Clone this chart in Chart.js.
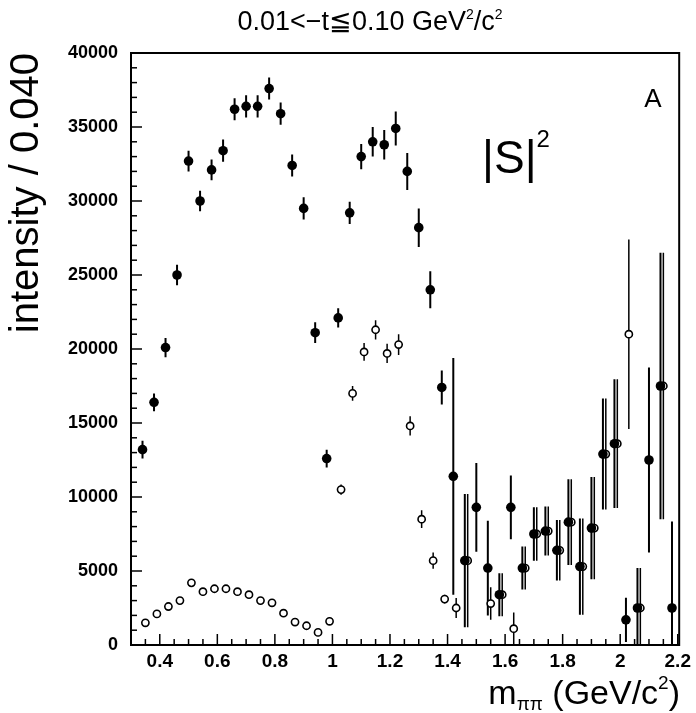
<!DOCTYPE html>
<html>
<head>
<meta charset="utf-8">
<script src="https://cdn.jsdelivr.net/npm/chart.js@4"></script>
<style>
  body { margin: 0; background: #fff; }
  canvas { display: block; }
</style>
</head>
<body>
<canvas id="waveChart" width="696" height="713"></canvas>
<script>
// |S|^2 intensity, two solutions: filled (black) and open (white) markers
const massFilled = [0.34, 0.38, 0.42, 0.46, 0.50, 0.54, 0.58, 0.62, 0.66, 0.70,
	0.74, 0.78, 0.82, 0.86, 0.90, 0.94, 0.98, 1.02, 1.06, 1.10,
	1.14, 1.18, 1.22, 1.26, 1.30, 1.34, 1.38, 1.42, 1.46, 1.50,
	1.54, 1.58, 1.62, 1.66, 1.70, 1.74, 1.78, 1.82, 1.86, 1.90,
	1.94, 1.98, 2.02, 2.06, 2.10, 2.14, 2.18];
const intensityFilled = [13200, 16400, 20100, 25000, 32700, 30000, 32100, 33400, 36200, 36400,
	36400, 37600, 35900, 32400, 29500, 21100, 12600, 22100, 29200, 33000,
	34000, 33800, 34900, 32000, 28200, 24000, 17400, 11400, 5700, 9300,
	5200, 3400, 9300, 5200, 7500, 7700, 6400, 8300, 5300, 7900,
	12900, 13600, 1700, 2500, 12500, 17500, 2500];
const errorFilled = [600, 600, 650, 700, 700, 700, 700, 750, 750, 750,
	750, 750, 750, 750, 750, 700, 600, 650, 750, 850,
	1000, 1000, 1150, 1250, 1300, 1250, 1150, 8000, 4500, 3000,
	3200, 1450, 2150, 1450, 1800, 1650, 2050, 2900, 3250, 3450,
	3750, 4350, 1500, 2700, 6250, 9000, 5850];

const massOpen = [0.35, 0.39, 0.43, 0.47, 0.51, 0.55, 0.59, 0.63, 0.67, 0.71,
	0.75, 0.79, 0.83, 0.87, 0.91, 0.95, 0.99, 1.03, 1.07, 1.11,
	1.15, 1.19, 1.23, 1.27, 1.31, 1.35, 1.39, 1.43, 1.47, 1.55,
	1.59, 1.63, 1.67, 1.71, 1.75, 1.79, 1.83, 1.87, 1.91, 1.95,
	1.99, 2.03, 2.07, 2.15];
const intensityOpen = [1500, 2100, 2600, 3000, 4200, 3600, 3800, 3800, 3600, 3400,
	3000, 2850, 2150, 1550, 1300, 850, 1600, 10500, 17000, 19800,
	21300, 19700, 20300, 14800, 8500, 5700, 3100, 2500, 5700, 2800,
	3400, 1100, 5200, 7500, 7700, 6400, 8300, 5300, 7900, 12900,
	13600, 21000, 2500, 17500];
const errorOpen = [250, 250, 250, 250, 250, 250, 250, 250, 250, 250,
	250, 250, 250, 250, 250, 250, 250, 350, 500, 600,
	650, 650, 700, 650, 600, 550, 300, 680, 4500, 1100,
	1450, 1100, 1450, 1800, 1650, 2050, 2900, 3250, 3450, 3750,
	4350, 6400, 2700, 9000];

const xTicks = [0.4, 0.6, 0.8, 1.0, 1.2, 1.4, 1.6, 1.8, 2.0, 2.2];
const yTicks = [0, 5000, 10000, 15000, 20000, 25000, 30000, 35000, 40000];

const FONT = '"Liberation Sans", Arial, Helvetica, sans-serif';

// Vertical error bars, drawn under the markers
const errorBars = {
	id: 'errorBars',
	beforeDatasetsDraw(chart) {
		const { ctx, chartArea, scales } = chart;
		ctx.save();
		ctx.beginPath();
		ctx.rect(chartArea.left, chartArea.top, chartArea.right - chartArea.left, chartArea.bottom - chartArea.top);
		ctx.clip();
		chart.data.datasets.forEach((ds) => {
			ctx.strokeStyle = '#000';
			ctx.lineWidth = ds.errorWidth;
			ds.data.forEach((p, i) => {
				const x = scales.x.getPixelForValue(p.x);
				ctx.beginPath();
				ctx.moveTo(x, scales.y.getPixelForValue(p.y - ds.errors[i]));
				ctx.lineTo(x, scales.y.getPixelForValue(p.y + ds.errors[i]));
				ctx.stroke();
			});
		});
		ctx.restore();
	},
};

// draws a run of [text, size, dy] pieces starting at x
function drawPieces(ctx, pieces, x, y) {
	pieces.forEach(([s, size, dy]) => {
		ctx.font = size + 'px ' + FONT;
		ctx.fillText(s, x, y + dy);
		x += ctx.measureText(s).width;
	});
}

function piecesWidth(ctx, pieces) {
	let w = 0;
	pieces.forEach(([s, size]) => { ctx.font = size + 'px ' + FONT; w += ctx.measureText(s).width; });
	return w;
}

// Box frame with inward ticks, plus the text on the canvas
const frame = {
	id: 'frame',
	afterDraw(chart) {
		const { ctx, chartArea: a, scales } = chart;
		ctx.save();
		ctx.strokeStyle = '#000';
		ctx.lineWidth = 1.5;

		// x ticks every 0.05, long ones at labelled values
		for (let k = 0; k <= 38; k++) {
			const v = 0.3 + k * 0.05;
			const x = scales.x.getPixelForValue(v);
			const major = xTicks.some((t) => Math.abs(t - v) < 1e-6);
			ctx.beginPath();
			ctx.moveTo(x, a.bottom);
			ctx.lineTo(x, a.bottom - (major ? 11 : 6));
			ctx.stroke();
		}
		// y ticks every 1000
		for (let v = 0; v <= 40000; v += 1000) {
			const y = scales.y.getPixelForValue(v);
			ctx.beginPath();
			ctx.moveTo(a.left, y);
			ctx.lineTo(a.left + (v % 5000 === 0 ? 11 : 6), y);
			ctx.stroke();
		}

		ctx.lineWidth = 2;
		ctx.strokeRect(a.left, a.top, a.right - a.left, a.bottom - a.top);

		ctx.fillStyle = '#000';
		ctx.textBaseline = 'alphabetic';

		// title
		const title = [
			['0.01<\u2212t\u22660.10 GeV', 27, 0],
			['2', 14, -11],
			['/c', 27, 0],
			['2', 14, -11],
		];
		drawPieces(ctx, title, 370 - piecesWidth(ctx, title) / 2, 30);

		// x axis title, right aligned to the frame
		const xTitle = [
			['m', 34, 0],
			['\u03c0\u03c0', 19, 6],
			[' (GeV/c', 34, 0],
			['2', 19, -15],
			[')', 34, 0],
		];
		drawPieces(ctx, xTitle, 680 - piecesWidth(ctx, xTitle), 704);

		// wave label and panel letter
		ctx.font = '46px ' + FONT;
		ctx.fillText('|S|', 482, 173);
		const w = ctx.measureText('|S|').width;
		ctx.font = '24px ' + FONT;
		ctx.fillText('2', 482 + w, 147);
		ctx.font = '26px ' + FONT;
		ctx.textAlign = 'center';
		ctx.fillText('A', 653, 107);
		ctx.restore();
	},
};

const ctx = document.getElementById('waveChart').getContext('2d');

const chart = new Chart(ctx, {
	type: 'scatter',
	data: {
		datasets: [
			{
				label: 'solution 1',
				data: massFilled.map((m, i) => ({ x: m, y: intensityFilled[i] })),
				errors: errorFilled,
				errorWidth: 2,
				pointStyle: 'circle',
				pointRadius: 4.8,
				backgroundColor: '#000',
				borderColor: '#000',
				borderWidth: 0,
			},
			{
				label: 'solution 2',
				data: massOpen.map((m, i) => ({ x: m, y: intensityOpen[i] })),
				errors: errorOpen,
				errorWidth: 1.5,
				pointStyle: 'circle',
				pointRadius: 3.6,
				backgroundColor: '#fff',
				borderColor: '#000',
				borderWidth: 1.6,
			},
		],
	},
	options: {
		responsive: false,
		animation: false,
		events: [],
		layout: { padding: { top: 53, right: 16, left: 0, bottom: 0 } },
		plugins: {
			legend: { display: false },
			tooltip: { enabled: false },
		},
		scales: {
			x: {
				type: 'linear',
				min: 0.3,
				max: 2.205,
				afterFit: (s) => { s.height = 68; },
				afterBuildTicks: (s) => { s.ticks = xTicks.map((v) => ({ value: v })); },
				grid: { display: false, drawTicks: false },
				border: { display: false },
				ticks: {
					padding: 5,
					color: '#000',
					font: { family: FONT, size: 19, weight: 'bold' },
					maxRotation: 0,
					callback: (v) => String(+v.toFixed(1)),
				},
			},
			y: {
				type: 'linear',
				min: 0,
				max: 40000,
				afterFit: (s) => { s.width = 131; },
				afterBuildTicks: (s) => { s.ticks = yTicks.map((v) => ({ value: v })); },
				grid: { display: false, drawTicks: false },
				border: { display: false },
				ticks: {
					padding: 13,
					color: '#000',
					font: { family: FONT, size: 18, weight: 'bold' },
					callback: (v) => String(v),
				},
				title: {
					display: true,
					text: 'intensity / 0.040',
					align: 'end',
					color: '#000',
					font: { family: FONT, size: 40 },
					padding: { top: 3, bottom: 0 },
				},
			},
		},
	},
	plugins: [errorBars, frame],
});
</script>
</body>
</html>
